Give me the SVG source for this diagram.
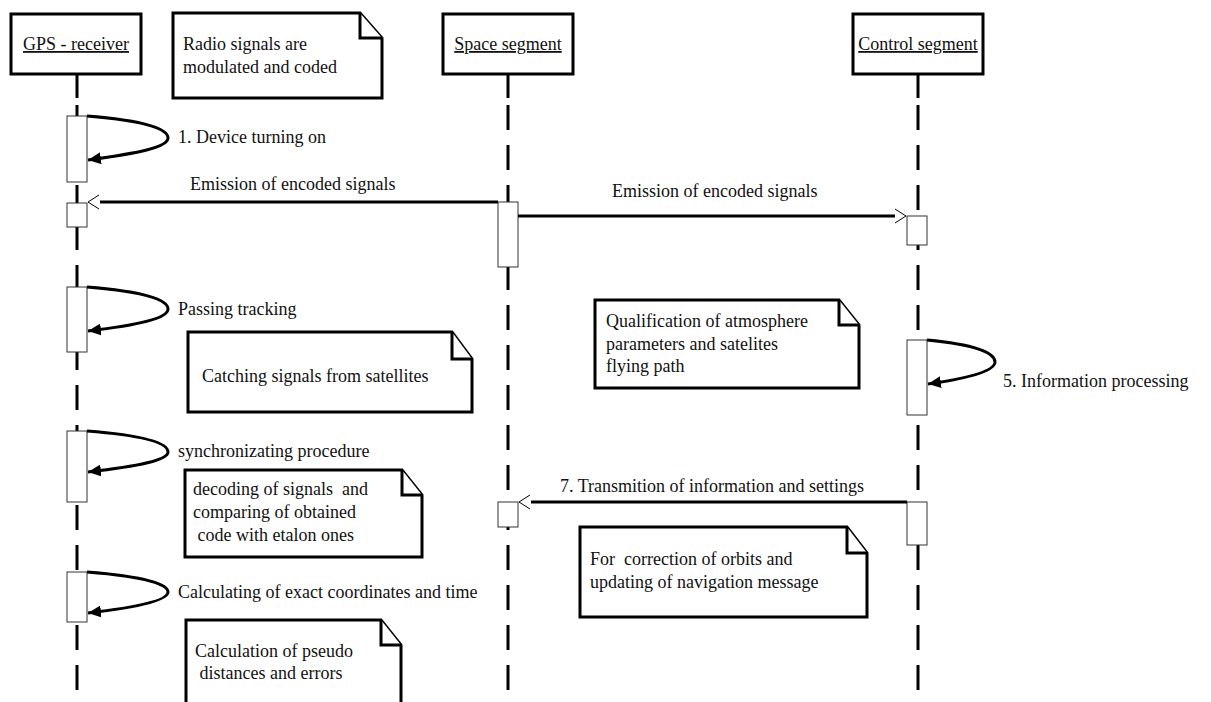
<svg xmlns="http://www.w3.org/2000/svg" width="1211" height="702" viewBox="0 0 1211 702" xml:space="preserve">
<style>
text{font-family:"Liberation Serif","Times New Roman",serif;font-size:18px;fill:#111;white-space:pre}
.title{text-decoration:underline}
.box{fill:#fff;stroke:#000;stroke-width:3}
.note{fill:#fff;stroke:#000;stroke-width:3;stroke-linejoin:miter}
.life{stroke:#000;stroke-width:3;fill:none}
.dash{stroke:#000;stroke-width:3;stroke-dasharray:25 15;fill:none}
.act{fill:#fff;stroke:#333;stroke-width:1}
.msg{stroke:#000;stroke-width:3;fill:none}
.head{stroke:#000;stroke-width:1;fill:none}
.loop{stroke:#000;stroke-width:3;fill:none;marker-end:url(#fill)}
</style>
<defs>
<marker id="fill" markerUnits="userSpaceOnUse" markerWidth="14" markerHeight="12" refX="13" refY="6" orient="auto">
<path d="M0,0 L13,6 L0,12 Z" fill="#000"/>
</marker>
</defs>
<rect width="1211" height="702" fill="#fff"/>

<g id="lifelines">
<line class="life" x1="77" y1="74" x2="77" y2="98"/>
<line class="dash" x1="77" y1="105" x2="77" y2="692"/>
<line class="life" x1="508" y1="74" x2="508" y2="98"/>
<line class="dash" x1="508" y1="105" x2="508" y2="692"/>
<line class="life" x1="918" y1="74" x2="918" y2="98"/>
<line class="dash" x1="918" y1="105" x2="918" y2="692"/>
</g>

<g id="gps">
<rect class="box" x="11" y="14" width="130" height="60"/>
<text class="title" x="76" y="50" text-anchor="middle">GPS - receiver</text>
</g>
<g id="space">
<rect class="box" x="443" y="14" width="130" height="60"/>
<text class="title" x="508" y="50" text-anchor="middle">Space segment</text>
</g>
<g id="control">
<rect class="box" x="853" y="14" width="130" height="60"/>
<text class="title" x="918" y="50" text-anchor="middle">Control segment</text>
</g>

<g id="note-radio">
<path class="note" d="M173,13 H360 L382,38 V98 H173 Z"/>
<path class="note" d="M360,13 V38 H382"/>
<text x="183" y="50">Radio signals are</text>
<text x="183" y="73">modulated and coded</text>
</g>

<g id="activations">
<rect class="act" x="67" y="116" width="20" height="66"/>
<rect class="act" x="67" y="203" width="20" height="24"/>
<rect class="act" x="67" y="287" width="20" height="65"/>
<rect class="act" x="67" y="431" width="20" height="71"/>
<rect class="act" x="67" y="572" width="20" height="50"/>
<rect class="act" x="498" y="202" width="20" height="65"/>
<rect class="act" x="498" y="502" width="20" height="25"/>
<rect class="act" x="907" y="216" width="20" height="29"/>
<rect class="act" x="907" y="340" width="20" height="75"/>
<rect class="act" x="907" y="502" width="20" height="43"/>
</g>

<g id="connectors">
<line class="msg" x1="498" y1="202" x2="100" y2="202"/>
<path class="head" d="M99,195 L88,202 L99,209"/>
<line class="msg" x1="518" y1="216" x2="895" y2="216"/>
<path class="head" d="M895,209 L906,216 L895,223"/>
<line class="msg" x1="907" y1="502" x2="531" y2="502"/>
<path class="head" d="M530,495 L519,502 L530,509"/>
<path class="loop" d="M87,116 C150,121 168,130 168,138 C168,147 140,153 88,160"/>
<path class="loop" d="M87,287 C150,292 168,301 168,309 C168,318 140,325 88,331"/>
<path class="loop" d="M87,431 C150,436 168,444 168,452 C168,460 140,466 88,472"/>
<path class="loop" d="M87,572 C150,577 168,585 168,592 C168,600 140,607 88,613"/>
<path class="loop" d="M927,340 C980,345 995,354 995,362 C995,371 970,378 928,384"/>
</g>

<g id="labels">
<text x="178" y="143">1. Device turning on</text>
<text x="190" y="190">Emission of encoded signals</text>
<text x="612" y="197">Emission of encoded signals</text>
<text x="178" y="315">Passing tracking</text>
<text x="178" y="457">synchronizating procedure</text>
<text x="178" y="598">Calculating of exact coordinates and time</text>
<text x="1003" y="387">5. Information processing</text>
<text x="560" y="492">7. Transmition of information and settings</text>
</g>

<g id="note-catching">
<path class="note" d="M188,332 H452 L472,359 V412 H188 Z"/>
<path class="note" d="M452,332 V359 H472"/>
<text x="202" y="382">Catching signals from satellites</text>
</g>
<g id="note-qualification">
<path class="note" d="M595,300 H839 L859,325 V388 H595 Z"/>
<path class="note" d="M839,300 V325 H859"/>
<text x="606" y="327">Qualification of atmosphere</text>
<text x="606" y="350">parameters and satelites</text>
<text x="606" y="372">flying path</text>
</g>
<g id="note-decoding">
<path class="note" d="M185,470 H402 L422,495 V557 H185 Z"/>
<path class="note" d="M402,470 V495 H422"/>
<text x="193" y="495">decoding of signals  and</text>
<text x="193" y="518">comparing of obtained</text>
<text x="193" y="541"> code with etalon ones</text>
</g>
<g id="note-correction">
<path class="note" d="M580,527 H847 L867,553 V617 H580 Z"/>
<path class="note" d="M847,527 V553 H867"/>
<text x="590" y="565">For  correction of orbits and</text>
<text x="590" y="588">updating of navigation message</text>
</g>
<g id="note-calculation">
<path class="note" d="M186,620 H381 L401,645 V710 H186 Z"/>
<path class="note" d="M381,620 V645 H401"/>
<text x="195" y="657">Calculation of pseudo</text>
<text x="195" y="679"> distances and errors</text>
</g>
</svg>
